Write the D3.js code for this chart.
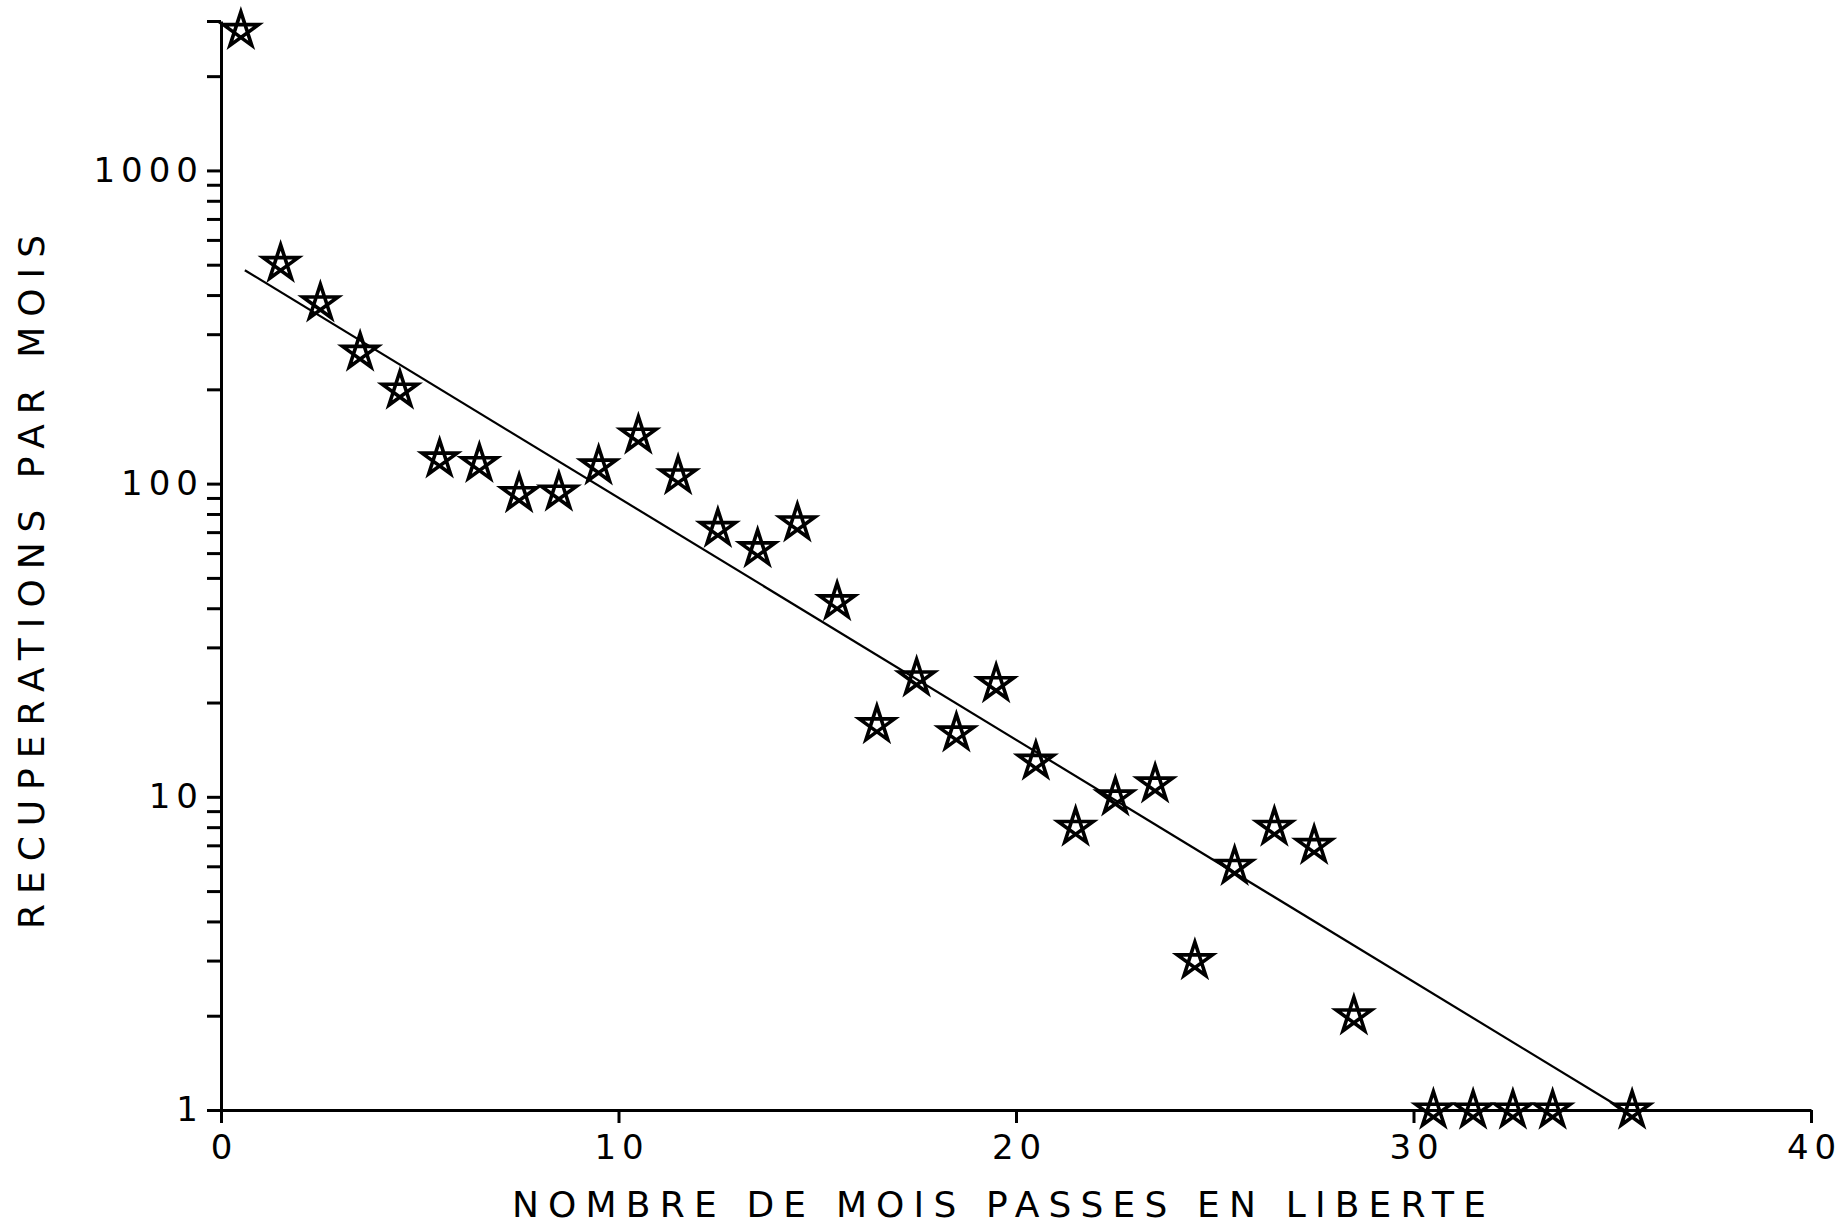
<!DOCTYPE html>
<html>
<head>
<meta charset="utf-8">
<script src="https://cdn.jsdelivr.net/npm/d3@7"></script>
<style>
  body { margin: 0; background: #fff; }
  text { font-family: "DejaVu Sans", sans-serif; fill: #000; }
</style>
</head>
<body>
<div id="chart"></div>
<script>
// months spent at liberty (mid-month) and recoveries per month
var months = [0.5, 1.5, 2.5, 3.5, 4.5, 5.5, 6.5, 7.5, 8.5, 9.5,
  10.5, 11.5, 12.5, 13.5, 14.5, 15.5, 16.5, 17.5, 18.5, 19.5,
  20.5, 21.5, 22.5, 23.5, 24.5, 25.5, 26.5, 27.5, 28.5,
  30.5, 31.5, 32.5, 33.5, 35.5];
var recoveries = [2800, 505, 378, 263, 199, 120, 116, 93, 94, 114,
  143, 106, 72, 62, 75, 42, 17, 24, 16, 23,
  13, 8, 10, 11, 3, 6, 8, 7, 2,
  1, 1, 1, 1, 1];

// fitted regression line (two ends)
var fitX = [0.6, 35.3];
var fitY = [480, 1];

var xTicks = [0, 10, 20, 30, 40];
var yLabels = [1, 10, 100, 1000];

var W = 1843, H = 1227;

var svg = d3.select("#chart")
  .append("svg")
  .attr("width", W)
  .attr("height", H);

var scaleX = d3.scaleLinear()
  .domain([0, 40])
  .range([221, 1811]);

var scaleY = d3.scaleLog()
  .domain([1, 3000])
  .range([1110, 21]);

// every log tick 1..9 per decade, up to 3000
var yTicks = [];
[1, 10, 100, 1000].forEach(function(dec){
  for (var k = 1; k <= 9; k++) {
    if (dec * k <= 3000) { yTicks.push(dec * k); }
  }
});

var axisX = d3.axisBottom()
  .scale(scaleX)
  .tickValues(xTicks)
  .tickSize(13)
  .tickSizeOuter(0)
  .tickPadding(12);

var axisY = d3.axisLeft()
  .scale(scaleY)
  .tickValues(yTicks)
  .tickSize(14)
  .tickSizeOuter(0)
  .tickPadding(3)
  .tickFormat(function(d){ return yLabels.indexOf(d) >= 0 ? d : ""; });

var gx = svg.append("g")
  .attr("transform", "translate(0," + scaleY(1) + ")")
  .call(axisX);

var gy = svg.append("g")
  .attr("transform", "translate(" + scaleX(0) + ",0)")
  .call(axisY);

[gx, gy].forEach(function(g){
  g.selectAll("path, line")
    .attr("stroke", "#000")
    .attr("stroke-width", 3);
  g.selectAll("text")
    .attr("font-family", "DejaVu Sans, sans-serif")
    .attr("font-size", "34px")
    .attr("letter-spacing", "6px")
    .attr("fill", "#000");
});
// shift x labels so the trailing letter-spacing does not pull them left
gx.selectAll("text").attr("dx", "3px");

// regression line
var line = d3.line()
  .x(function(d){ return scaleX(d[0]); })
  .y(function(d){ return scaleY(d[1]); });

svg.append("path")
  .datum(fitX.map(function(v, i){ return [v, fitY[i]]; }))
  .attr("d", line)
  .attr("fill", "none")
  .attr("stroke", "#000")
  .attr("stroke-width", 2.2);

// pentagram markers
var R = 18.5;
var starPath = d3.range(6).map(function(i){
  var a = (-90 + i * 144) * Math.PI / 180;
  return [R * Math.cos(a), R * Math.sin(a)];
});
var starD = d3.line()(starPath) + "Z";

svg.selectAll(".star")
  .data(months.map(function(m, i){ return {x: m, y: recoveries[i]}; }))
  .enter()
  .append("path")
  .attr("class", "star")
  .attr("transform", function(d){ return "translate(" + scaleX(d.x) + "," + scaleY(d.y) + ")"; })
  .attr("d", starD)
  .attr("fill", "none")
  .attr("stroke", "#000")
  .attr("stroke-width", 3.6)
  .attr("stroke-linejoin", "miter");

// axis titles
svg.append("text")
  .attr("x", 999)
  .attr("y", 1217)
  .attr("text-anchor", "middle")
  .attr("font-size", "36px")
  .attr("textLength", 974)
  .attr("lengthAdjust", "spacing")
  .text("NOMBRE DE MOIS PASSES EN LIBERTE");

svg.append("text")
  .attr("transform", "translate(44,582) rotate(-90)")
  .attr("text-anchor", "middle")
  .attr("font-size", "36px")
  .attr("textLength", 694)
  .attr("lengthAdjust", "spacing")
  .text("RECUPERATIONS PAR MOIS");
</script>
</body>
</html>
